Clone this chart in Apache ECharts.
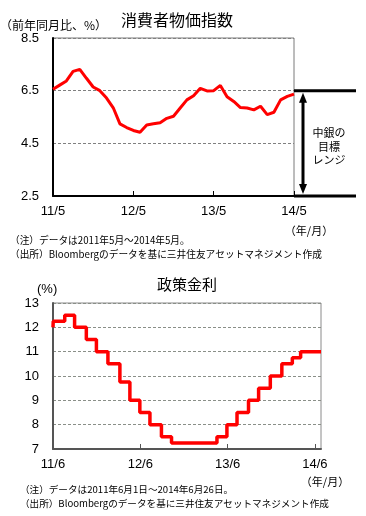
<!DOCTYPE html>
<html><head><meta charset="utf-8">
<script src="https://cdn.jsdelivr.net/npm/echarts@6/dist/echarts.min.js"></script>
<style>html,body{margin:0;padding:0;background:#fff}#c{width:366px;height:516px}</style>
</head><body><div id="c"></div>
<script>
// ---- Chart 1: 消費者物価指数 (前年同月比, %) ----
const cpiMonths = ['11/5','11/6','11/7','11/8','11/9','11/10','11/11','11/12',
  '12/1','12/2','12/3','12/4','12/5','12/6','12/7','12/8','12/9','12/10','12/11','12/12',
  '13/1','13/2','13/3','13/4','13/5','13/6','13/7','13/8','13/9','13/10','13/11','13/12',
  '14/1','14/2','14/3','14/4','14/5'];
const cpiValues = [6.55,6.71,6.87,7.23,7.31,6.97,6.64,6.50,
  6.22,5.85,5.24,5.10,4.99,4.92,5.20,5.24,5.28,5.45,5.53,5.84,
  6.15,6.31,6.59,6.49,6.50,6.70,6.27,6.09,5.86,5.84,5.77,5.91,
  5.59,5.68,6.15,6.28,6.37];
const cpiYTicks = [2.5, 4.5, 6.5, 8.5];
const targetRange = [2.5, 6.5];

// ---- Chart 2: 政策金利 (%) ----
const selicDates = ['2011-06-01','2011-06-02','2011-07-20','2011-08-31','2011-10-19','2011-11-30',
  '2012-01-18','2012-03-07','2012-04-18','2012-05-30','2012-07-11','2012-08-29','2012-10-10',
  '2013-04-17','2013-05-29','2013-07-10','2013-08-28','2013-10-09','2013-11-27',
  '2014-01-15','2014-02-26','2014-04-02','2014-06-26'];
const selicRates = [12.00,12.25,12.50,12.00,11.50,11.00,
  10.50,9.75,9.00,8.50,8.00,7.50,7.25,
  7.50,8.00,8.50,9.00,9.50,10.00,
  10.50,10.75,11.00,11.00];
const rateXTicks = ['11/6','12/6','13/6','14/6'];
const rateYTicks = [7,8,9,10,11,12,13];

function monthOffset(s){
  const [y,m,d] = s.split('-').map(Number);
  const dim = new Date(Date.UTC(y, m, 0)).getUTCDate();
  return (y-2011)*12 + (m-6) + (d-1)/dim;
}
const selicData = selicDates.map((d,i)=>[monthOffset(d), selicRates[i]]);
const rateXMax = monthOffset(selicDates[selicDates.length-1]);

const JP = '"Noto Sans CJK JP", sans-serif';
const NUM = '"Liberation Sans", Arial, sans-serif';

const chart = echarts.init(document.getElementById('c'), null, {renderer:'canvas'});
const option = {
  animation:false,
  backgroundColor:'#fff',
  grid:[
    {left:53, top:38, width:241, height:158, show:true, borderColor:'#7a7a7a', borderWidth:1, backgroundColor:'transparent'},
    {left:53, top:303, width:268, height:146, show:true, borderColor:'#8a8a8a', borderWidth:1, backgroundColor:'transparent'}
  ],
  xAxis:[
    {type:'category', gridIndex:0, data:cpiMonths, boundaryGap:false,
     axisLine:{show:true, lineStyle:{color:'#000', width:2}},
     axisTick:{show:true, inside:true, interval:11, length:5, lineStyle:{color:'#000'}},
     axisLabel:{interval:11, color:'#000', fontFamily:NUM, fontSize:13, margin:9},
     splitLine:{show:false}},
    {type:'value', gridIndex:1, min:0, max:rateXMax, interval:12,
     axisLine:{show:true, onZero:false, lineStyle:{color:'#555', width:2}},
     axisTick:{show:true, inside:true, length:5, lineStyle:{color:'#555'}},
     axisLabel:{color:'#000', fontFamily:NUM, fontSize:13, margin:9, showMaxLabel:false,
       formatter:v=> (Math.abs(v%12)<1e-9 ? rateXTicks[Math.round(v/12)] : '')},
     splitLine:{show:false}}
  ],
  yAxis:[
    {type:'value', gridIndex:0, min:cpiYTicks[0], max:cpiYTicks[cpiYTicks.length-1], interval:2,
     axisLine:{show:true, lineStyle:{color:'#000', width:2}},
     axisTick:{show:false},
     axisLabel:{color:'#000', fontFamily:NUM, fontSize:13, margin:14, formatter:v=>v.toFixed(1)},
     splitLine:{show:true, lineStyle:{color:'#808080', type:[3,2], width:1}}},
    {type:'value', gridIndex:1, min:rateYTicks[0], max:rateYTicks[rateYTicks.length-1], interval:1,
     axisLine:{show:true, lineStyle:{color:'#555', width:2}},
     axisTick:{show:false},
     axisLabel:{color:'#000', fontFamily:NUM, fontSize:13, margin:14},
     splitLine:{show:true, lineStyle:{color:'#8a8f88', type:[3,2], width:1}}}
  ],
  series:[
    {type:'line', xAxisIndex:0, yAxisIndex:0, data:cpiValues, symbol:'none',
     lineStyle:{color:'#ff0000', width:3}, z:5},
    {type:'line', xAxisIndex:1, yAxisIndex:1, data:selicData, step:'end', symbol:'none',
     lineStyle:{color:'#ff0000', width:3.5}, z:5}
  ]
};
chart.setOption(option);

// annotation for the target range, positioned through the axes
const pTop = chart.convertToPixel({xAxisIndex:0, yAxisIndex:0}, [cpiMonths.length-1, targetRange[1]]);
const pBot = chart.convertToPixel({xAxisIndex:0, yAxisIndex:0}, [cpiMonths.length-1, targetRange[0]]);
const xR = pTop[0], yT = pTop[1], yB = pBot[1];
const ax = xR + 9;
const txt = (x,y,text,size,align,font,extra)=>Object.assign({type:'text', z:20,
  style:{x:x, y:y, text:text, fontSize:size, fontFamily:font||JP, fill:'#000',
  textAlign:align||'left', textVerticalAlign:'middle'}}, extra||{});

chart.setOption({graphic:[
  {type:'line', z:10, shape:{x1:xR, y1:yT, x2:xR+62, y2:yT}, style:{stroke:'#000', lineWidth:3}},
  {type:'line', z:10, shape:{x1:xR, y1:yB, x2:xR+62, y2:yB}, style:{stroke:'#000', lineWidth:3}},
  {type:'line', z:10, shape:{x1:ax, y1:yT+8, x2:ax, y2:yB-8}, style:{stroke:'#000', lineWidth:3}},
  {type:'polygon', z:10, shape:{points:[[ax,yT+2],[ax-4,yT+12],[ax+4,yT+12]]}, style:{fill:'#000'}},
  {type:'polygon', z:10, shape:{points:[[ax,yB-2],[ax-4,yB-12],[ax+4,yB-12]]}, style:{fill:'#000'}},
  txt(329, 133, '中銀の', 11, 'center'),
  txt(329, 147, '目標', 11, 'center'),
  txt(329, 160, 'レンジ', 11, 'center'),
  txt(177, 20, '消費者物価指数', 16, 'center'),
  txt(0, 25, '（前年同月比、%）', 12, 'left'),
  txt(309, 231, '（年/月）', 11, 'center'),
  txt(10, 240, '（注）データは2011年5月～2014年5月。', 9.7, 'left'),
  txt(10, 254, '（出所）Bloombergのデータを基に三井住友アセットマネジメント作成', 9.7, 'left'),
  txt(187, 284, '政策金利', 15, 'center'),
  txt(37, 289, '(%)', 13, 'left', NUM),
  txt(325, 482, '（年/月）', 11, 'center'),
  txt(20, 489, '（注）データは2011年6月1日～2014年6月26日。', 9.6, 'left'),
  txt(20, 503, '（出所）Bloombergのデータを基に三井住友アセットマネジメント作成', 9.6, 'left')
]});
</script>
</body></html>
